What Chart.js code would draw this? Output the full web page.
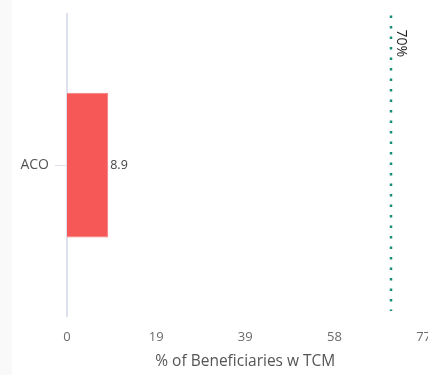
<!DOCTYPE html>
<html>
<head>
<meta charset="utf-8">
<script src="https://cdn.jsdelivr.net/npm/chart.js@4.4.1/dist/chart.umd.min.js"></script>
<style>
  html, body { margin: 0; padding: 0; background: #ffffff; overflow: hidden; }
  #wrap { position: relative; width: 444px; height: 375px; }
  #strip { position: absolute; left: 0; top: 0; width: 12px; height: 375px; background: #f9f9f9; }
  canvas { position: absolute; left: 0; top: 0; }
</style>
</head>
<body>
<div id="wrap">
  <div id="strip"></div>
  <canvas id="chart"></canvas>
</div>
<script>
// Share of beneficiaries with transitional care management
const categories = ['ACO'];
const values = [8.9];
const targetValue = 70;
const targetLabel = '70%';
const axisMax = 77;
const axisTickCount = 5;
const axisTitle = '% of Beneficiaries w TCM';

Chart.defaults.font.family = "'Open Sans', 'Noto Sans', sans-serif";

// Bar value written just past the end of each bar
const valueLabels = {
  id: 'valueLabels',
  afterDatasetsDraw(chart) {
    const ctx = chart.ctx;
    const meta = chart.getDatasetMeta(0);
    ctx.save();
    ctx.font = "12.5px 'Open Sans', sans-serif";
    ctx.fillStyle = '#444444';
    ctx.textAlign = 'left';
    ctx.textBaseline = 'middle';
    meta.data.forEach((bar, i) => {
      ctx.fillText(String(values[i]), bar.x + 2, bar.y);
    });
    ctx.restore();
  }
};

// Dotted target line with a rotated label
const targetLine = {
  id: 'targetLine',
  afterDatasetsDraw(chart) {
    const ctx = chart.ctx;
    const area = chart.chartArea;
    const x = Math.round(chart.scales.x.getPixelForValue(targetValue));
    ctx.save();
    ctx.strokeStyle = '#168f79';
    ctx.lineWidth = 2.5;
    ctx.setLineDash([2.5, 8]);
    ctx.beginPath();
    ctx.moveTo(x, area.top + 1);
    ctx.lineTo(x, area.bottom - 5);
    ctx.stroke();
    ctx.setLineDash([]);
    ctx.translate(x + 10, area.top + 15);
    ctx.rotate(Math.PI / 2);
    ctx.font = "14px 'Open Sans', sans-serif";
    ctx.fillStyle = '#1a1a1a';
    ctx.textAlign = 'left';
    ctx.textBaseline = 'middle';
    ctx.fillText(targetLabel, 0, 0);
    ctx.restore();
  }
};

new Chart(document.getElementById('chart'), {
  type: 'bar',
  data: {
    labels: categories,
    datasets: [{
      data: values,
      backgroundColor: '#f65858',
      borderColor: '#f87a7a',
      borderWidth: 1,
      categoryPercentage: 0.8,
      barPercentage: 0.6
    }]
  },
  options: {
    indexAxis: 'y',
    responsive: true,
    maintainAspectRatio: false,
    animation: false,
    layout: { padding: { top: 10, left: 0, right: 0, bottom: 0 } },
    plugins: {
      legend: { display: false },
      tooltip: { enabled: false }
    },
    scales: {
      x: {
        min: 0,
        max: axisMax,
        border: { display: false },
        grid: { display: false, drawTicks: false },
        ticks: {
          count: axisTickCount,
          padding: 13,
          color: '#6b6b6b',
          font: { size: 13 },
          callback: (v) => Math.round(v)
        },
        title: {
          display: true,
          text: axisTitle,
          color: '#555555',
          font: { size: 15.5 },
          padding: { top: 4, bottom: 4 }
        },
        afterFit(scale) { scale.height = 59; }
      },
      y: {
        border: { display: true, color: '#dde1ed', width: 2 },
        grid: { drawOnChartArea: false, drawTicks: true, offset: false, tickLength: 12, color: '#dde1ed' },
        ticks: { padding: 6, color: '#555555', font: { size: 14 } },
        afterFit(scale) { scale.width = 67; }
      }
    }
  },
  plugins: [valueLabels, targetLine]
});
</script>
</body>
</html>
